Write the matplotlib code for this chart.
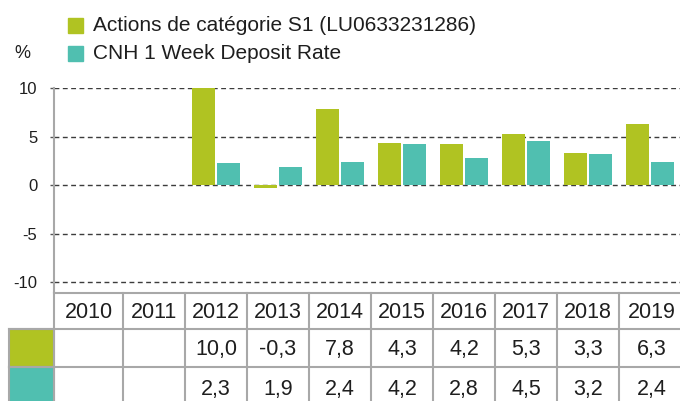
import matplotlib
matplotlib.use("Agg")
import matplotlib.pyplot as plt
from matplotlib.patches import Rectangle
import numpy as np

plt.rcParams["font.family"] = ["Liberation Sans", "DejaVu Sans"]

years = ["2010", "2011", "2012", "2013", "2014", "2015", "2016", "2017", "2018", "2019"]
fund = [None, None, 10.0, -0.3, 7.8, 4.3, 4.2, 5.3, 3.3, 6.3]
rate = [None, None, 2.3, 1.9, 2.4, 4.2, 2.8, 4.5, 3.2, 2.4]
labels = ["Actions de catégorie S1 (LU0633231286)", "CNH 1 Week Deposit Rate"]
yticks = [-10, -5, 0, 5, 10]

GREEN = "#B0C322"
TEAL = "#50BFB0"
TXT = "#1e1e1e"
LINE = "#a8a8a8"

W, H = 680, 401
fig = plt.figure(figsize=(W / 100, H / 100), dpi=100)

# bar panel: pixel box 54..680 x 88..292
ax = fig.add_axes([54 / W, (H - 292) / H, (W - 54) / W, (292 - 88) / H])
x = np.arange(len(years))
fv = np.array([np.nan if v is None else v for v in fund])
rv = np.array([np.nan if v is None else v for v in rate])
bw = 0.37
ax.bar(x - 0.2, fv, bw, color=GREEN, zorder=3)
ax.bar(x + 0.2, rv, bw, color=TEAL, zorder=3)
ax.set_xlim(-0.613, 9.484)
ax.set_ylim(-11.03, 10)
ax.set_yticks(yticks)
ax.set_yticklabels([str(t) for t in yticks])
ax.set_xticks([])
for t in yticks:
    ax.axhline(t, color="#3c3c3c", lw=1.0, ls=(0, (3.5, 2.5)), zorder=1)
for s in ["top", "right", "bottom"]:
    ax.spines[s].set_visible(False)
ax.spines["left"].set_color(LINE)
ax.spines["left"].set_linewidth(1.5)
ax.spines["left"].set_bounds(-11.03, 10)
ax.tick_params(axis="y", length=3, width=1, color="#555555", pad=9,
               labelsize=12, labelcolor=TXT)
ax.patch.set_alpha(0)

# overlay in pixel coordinates for legend and table
ov = fig.add_axes([0, 0, 1, 1])
ov.set_xlim(0, W)
ov.set_ylim(H, 0)
ov.axis("off")

# legend
for (lab, col, yc) in [(labels[0], GREEN, 25.5), (labels[1], TEAL, 53.5)]:
    ov.add_patch(Rectangle((68, yc - 7.5), 15, 15, color=col))
    ov.text(93, yc, lab, fontsize=15, color=TXT, va="center", ha="left")
ov.text(22, 54, "%", fontsize=13, color=TXT, va="center", ha="center")

# table
col_edges = [54, 123] + [185 + 62 * i for i in range(9)]
col_edges[-1] = W + 5
row_edges = [293, 329, 367, 410]
tfs = 15.5
for i, yr in enumerate(years):
    xc = (col_edges[i] + col_edges[i + 1]) / 2
    ov.text(xc, (row_edges[0] + row_edges[1]) / 2 + 1, yr, fontsize=tfs,
            color=TXT, ha="center", va="center")
    for r, series in enumerate([fund, rate]):
        v = series[i]
        if v is not None:
            ov.text(xc, (row_edges[r + 1] + row_edges[r + 2]) / 2 + 1,
                    f"{v:.1f}".replace(".", ","), fontsize=tfs, color=TXT,
                    ha="center", va="center")

# grid lines of the table
ov.plot([54, W + 5], [293, 293], color=LINE, lw=1.5)
ov.plot([9, W + 5], [329, 329], color=LINE, lw=1.5)
ov.plot([9, W + 5], [367, 367], color=LINE, lw=1.5)
for xe in col_edges[:-1]:
    ov.plot([xe, xe], [293, 410], color=LINE, lw=1.5)
ov.add_patch(Rectangle((9, 329), 45, 38, facecolor=GREEN, edgecolor=LINE, lw=1.5))
ov.add_patch(Rectangle((9, 367), 45, 40, facecolor=TEAL, edgecolor=LINE, lw=1.5))

fig.savefig("out.png", dpi=100)
